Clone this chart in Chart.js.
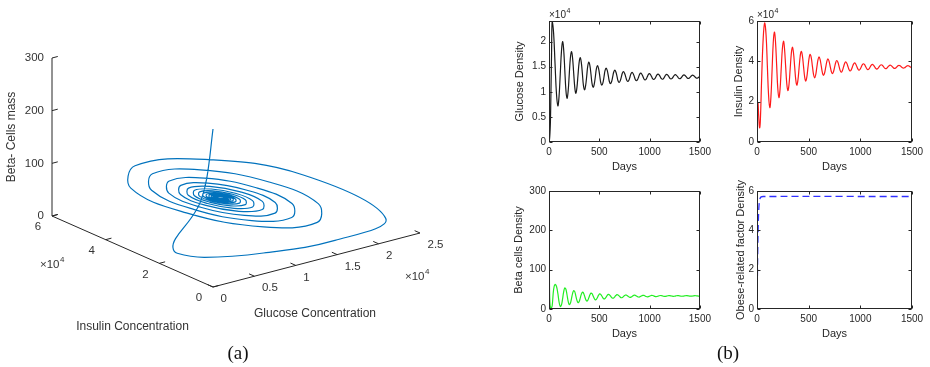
<!DOCTYPE html>
<html><head><meta charset="utf-8">
<script src="https://cdn.jsdelivr.net/npm/chart.js@4.4.1/dist/chart.umd.min.js"></script>
<style>
html,body{margin:0;padding:0;background:#fff;}
body{width:930px;height:367px;position:relative;overflow:hidden;}
canvas{position:absolute;}
.lab{position:absolute;font-family:"Liberation Serif","DejaVu Serif",serif;font-size:19px;color:#111;transform:translate(-50%,-50%);line-height:1;}
</style></head><body>
<canvas id="c3d" width="480" height="345" style="left:0px;top:0px"></canvas>
<canvas id="cG" width="215" height="175" style="left:500px;top:0px"></canvas>
<canvas id="cI" width="215" height="175" style="left:715px;top:0px"></canvas>
<canvas id="cB" width="215" height="162" style="left:500px;top:180px"></canvas>
<canvas id="cO" width="215" height="162" style="left:715px;top:180px"></canvas>
<div class="lab" style="left:238px;top:352px">(a)</div>
<div class="lab" style="left:728px;top:352px">(b)</div>
<script>
// ---------- data (time in days; glucose & insulin in units of 1e4) ----------
const days = [0,1,2,3,5,7,10,14,19,25,
  32,46,60,74,88,100,112,124, 135,146,157,168,179,190,201,212, 223,234,245,256,266,277,288,299,
  310,321,332,342,353,364,375,385, 396,407,418,428,439,450,461,471, 482,493,504,514,525,536,547,557,
  568,579,590,600,611,622,633,643, 654,665,676,686,697,708,719,729, 740,751,762,772,783,794,805,815,
  826,837,848,858,869,880,891,901, 912,923,934,944,955,966,977,987, 998,1009,1020,1030,1041,1052,1063,1073,
  1084,1095,1106,1116,1127,1138,1149,1159, 1170,1181,1192,1202,1213,1224,1235,1245,
  1256,1267,1278,1288,1299,1310,1321,1331, 1342,1353,1364,1374,1385,1396,1407,1417,
  1428,1439,1450,1460,1471,1482,1493,1500];
const glucose = [0,0.005,0.01,0.03,0.05,0.1,0.2,0.4,0.95,1.7,
  2.41,2.16,1.565,0.97,0.72,0.91,1.36,1.81, 2.0,1.835,1.435,1.035,0.87,1.006,1.335,1.664,
  1.8,1.678,1.385,1.092,0.97,1.074,1.325,1.576, 1.68,1.586,1.36,1.134,1.04,1.121,1.315,1.509,
  1.59,1.517,1.34,1.163,1.09,1.153,1.305,1.457, 1.52,1.463,1.325,1.187,1.13,1.179,1.30,1.421,
  1.47,1.425,1.315,1.205,1.16,1.2,1.295,1.39, 1.43,1.394,1.308,1.221,1.185,1.217,1.293,1.369,
  1.40,1.371,1.303,1.234,1.205,1.231,1.295,1.359, 1.385,1.361,1.303,1.244,1.22,1.242,1.295,1.348,
  1.37,1.35,1.303,1.255,1.235,1.253,1.298,1.342, 1.36,1.343,1.303,1.262,1.245,1.26,1.298,1.335,
  1.35,1.335,1.30,1.265,1.25,1.264,1.298,1.331, 1.345,1.332,1.30,1.268,1.255,1.267,1.298,1.328,
  1.34,1.328,1.30,1.272,1.26,1.271,1.298,1.324, 1.335,1.325,1.30,1.275,1.265,1.275,1.298,1.321,
  1.33,1.321,1.30,1.279,1.27,1.279,1.299,1.32];
const insulin = [0,0.25,0.5,0.9,1.55,1.8,1.95,1.55,1.05,0.7,
  1.0,3.3,5.14,5.9,5.285,3.8,2.315,1.7, 2.249,3.575,4.901,5.45,4.974,3.825,2.676,2.2,
  2.611,3.6,4.59,5.0,4.642,3.775,2.909,2.55, 2.865,3.625,4.385,4.7,4.424,3.76,3.096,2.82,
  3.066,3.66,4.254,4.5,4.283,3.76,3.237,3.02, 3.215,3.685,4.155,4.35,4.179,3.765,3.351,3.18,
  3.332,3.7,4.068,4.22,4.085,3.76,3.435,3.3, 3.421,3.71,3.999,4.12,4.013,3.755,3.497,3.39,
  3.485,3.715,3.945,4.04,3.955,3.75,3.545,3.46, 3.535,3.715,3.895,3.97,3.904,3.745,3.586,3.52,
  3.578,3.72,3.862,3.92,3.868,3.74,3.613,3.56, 3.607,3.72,3.834,3.88,3.838,3.735,3.632,3.59,
  3.628,3.72,3.812,3.85,3.816,3.733,3.649,3.615, 3.646,3.723,3.799,3.83,3.802,3.733,3.663,3.635,
  3.66,3.723,3.785,3.81,3.787,3.73,3.673,3.65, 3.672,3.725,3.778,3.8,3.779,3.73,3.681,3.66,
  3.679,3.725,3.771,3.79,3.773,3.73,3.687,3.67];
const beta = [300,200,150,110,55,30,12,5,2,3,
  9,50,62.5,57.8,39.5,18.1,6.4,10.3, 25.8,43.8,53.6,50.1,36.2,20.2,11.3,14.3,
  25.9,39.3,46.7,44.2,34.2,22.6,16.2,18.4, 27.2,37.2,42.8,40.9,33.5,24.9,20.2,21.85,
  28.45,36.15,40.35,38.95,33.25,26.75,23.15,24.4, 29.4,35.2,38.38,37.3,33.1,28.3,25.6,26.6,
  30.4,34.8,37.2,36.4,33.2,29.4,27.4,28.15, 31.05,34.45,36.35,35.7,33.2,30.3,28.65,29.25,
  31.55,34.15,35.65,35.15,33.15,30.9,29.65,30.1, 31.9,34,35.15,34.77,33.22,31.42,30.44,30.8,
  32.22,33.86,34.77,34.46,33.23,31.81,31.03,31.32, 32.45,33.75,34.47,34.23,33.26,32.14,31.52,31.75,
  32.66,33.7,34.28,34.08,33.31,32.41,31.92,32.1, 32.81,33.63,34.08,33.93,33.32,32.6,32.21,32.36,
  32.94,33.62,33.99,33.86,33.34,32.74,32.41,32.54, 33.02,33.58,33.89,33.78,33.36,32.88,32.61,32.71,
  33.1,33.54,33.79,33.7,33.35,32.93,32.71,32.8];
const obeseDays = [0,3,6,10,15,20,28,40,60,1500];
const obese = [0,1.2,2.5,3.8,4.8,5.3,5.6,5.7,5.72,5.72];

const dayTicks = [0,500,1000,1500];
const glucoseTicks = [0,0.5,1,1.5,2];
const insulinTicks = [0,2,4,6];
const betaTicks = [0,100,200,300];
const obeseTicks = [0,2,4,6];
const g3Ticks = [0,0.5,1,1.5,2,2.5];
const i3Ticks = [0,2,4,6];
const b3Ticks = [0,100,200,300];

// ---------- styling ----------
const INK = '#262626';
const SANS = '"Liberation Sans", Arial, Helvetica, sans-serif';
Chart.defaults.font.family = SANS;
Chart.defaults.color = INK;

// ---------- 3D view (oblique projection of the MATLAB plot3 box) ----------
const view = {origin:[213,287], gEnd:[420,233], iEnd:[52,216], bLen:158};
function proj(g,i,b){
  const gMax=g3Ticks[g3Ticks.length-1], iMax=i3Ticks[i3Ticks.length-1], bMax=b3Ticks[b3Ticks.length-1];
  const gx=(view.gEnd[0]-view.origin[0])/gMax, gy=(view.gEnd[1]-view.origin[1])/gMax;
  const ix=(view.iEnd[0]-view.origin[0])/iMax, iy=(view.iEnd[1]-view.origin[1])/iMax;
  const by=-view.bLen/bMax;
  return {x: view.origin[0]+gx*g+ix*i, y: view.origin[1]+gy*g+iy*i+by*b};
}

const axes3d = {
  id:'axes3d',
  beforeDatasetsDraw(chart){
    const {ctx, scales:{x:sx, y:sy}} = chart;
    const P=(g,i,b)=>{const p=proj(g,i,b);return [sx.getPixelForValue(p.x), sy.getPixelForValue(p.y)];};
    const gMax=g3Ticks[g3Ticks.length-1], iMax=i3Ticks[i3Ticks.length-1], bMax=b3Ticks[b3Ticks.length-1];
    ctx.save();
    ctx.strokeStyle=INK; ctx.lineWidth=1;
    const seg=(a,b)=>{ctx.beginPath();ctx.moveTo(a[0],a[1]);ctx.lineTo(b[0],b[1]);ctx.stroke();};
    seg(P(0,iMax,0),P(0,iMax,bMax));
    seg(P(0,iMax,0),P(0,0,0));
    seg(P(0,0,0),P(gMax,0,0));
    b3Ticks.forEach(v=>seg(P(0,iMax,v),P(0.07,iMax,v)));
    i3Ticks.forEach(v=>seg(P(0,v,0),P(0.07,v,0)));
    g3Ticks.forEach(v=>seg(P(v,0,0),P(v,0.2,0)));
    ctx.fillStyle='#333'; ctx.font='11.5px '+SANS; ctx.textBaseline='middle';
    ctx.textAlign='right';
    b3Ticks.forEach(v=>{const p=P(0,iMax,v);ctx.fillText(String(v),p[0]-8,p[1]);});
    ctx.textAlign='center';
    i3Ticks.forEach(v=>{const p=P(0,v,0);ctx.fillText(String(v),p[0]-14,p[1]+11);});
    ctx.textAlign='left';
    g3Ticks.forEach(v=>{const p=P(v,0,0);ctx.fillText(String(v),p[0]+7.5,p[1]+12);});
    const expo=(x,y)=>{ctx.font='11.5px '+SANS;ctx.textAlign='left';ctx.fillText('\u00d710',x,y);
      const w=ctx.measureText('\u00d710').width;ctx.font='8px '+SANS;ctx.fillText('4',x+w+0.5,y-5);};
    let q=P(0,iMax,0); expo(q[0]-12,q[1]+49);
    q=P(gMax,0,0); expo(q[0]-15,q[1]+44);
    ctx.font='12px '+SANS; ctx.textAlign='center';
    q=P(0,iMax/2,0); ctx.fillText('Insulin Concentration',q[0],q[1]+75.5);
    q=P(gMax/2,0,0); ctx.fillText('Glucose Concentration',q[0]-1.5,q[1]+54);
    q=P(0,iMax,bMax/2); ctx.translate(q[0]-40,q[1]); ctx.rotate(-Math.PI/2); ctx.fillText('Beta- Cells mass',0,0);
    ctx.restore();
  }
};

new Chart(document.getElementById('c3d'),{
  type:'scatter',
  data:{datasets:[{data:days.map((d,j)=>proj(glucose[j],insulin[j],beta[j])),showLine:true,borderColor:'#0072BD',
    borderWidth:1.2,pointRadius:0,tension:0.4,fill:false}]},
  options:{animation:false,responsive:false,events:[],layout:{padding:0},
    plugins:{legend:{display:false},tooltip:{enabled:false}},
    scales:{x:{type:'linear',display:false,min:0,max:480},y:{type:'linear',display:false,min:0,max:345,reverse:true}}},
  plugins:[axes3d]
});

// ---------- 2D MATLAB-style subplots ----------
const matlabBox = {
  id:'matlabBox',
  afterDatasetsDraw(chart,args,opts){
    const {ctx, chartArea:a, scales:{x,y}} = chart;
    ctx.save();
    ctx.strokeStyle=INK; ctx.lineWidth=1;
    const L=Math.round(a.left)+0.5, R=Math.round(a.right)-0.5, T=Math.round(a.top)+0.5, B=Math.round(a.bottom)-0.5;
    ctx.strokeRect(L,T,R-L,B-T);
    const tl=3;
    ctx.beginPath();
    x.ticks.forEach(t=>{const p=Math.round(x.getPixelForValue(t.value))+0.5;ctx.moveTo(p,B);ctx.lineTo(p,B-tl);ctx.moveTo(p,T);ctx.lineTo(p,T+tl);});
    y.ticks.forEach(t=>{const p=Math.round(y.getPixelForValue(t.value))+0.5;ctx.moveTo(L,p);ctx.lineTo(L+tl,p);ctx.moveTo(R,p);ctx.lineTo(R-tl,p);});
    ctx.stroke();
    ctx.fillStyle=INK; ctx.textBaseline='middle';
    if(opts.exp){
      ctx.textAlign='left'; ctx.font='10px '+SANS; ctx.fillText('\u00d710',a.left,a.top-5.5);
      const w=ctx.measureText('\u00d710').width; ctx.font='7px '+SANS; ctx.fillText('4',a.left+w+0.5,a.top-10);
    }
    ctx.font='11px '+SANS; ctx.textAlign='center';
    ctx.translate(a.left-opts.titleOff,(a.top+a.bottom)/2); ctx.rotate(-Math.PI/2); ctx.fillText(opts.title,0,0);
    ctx.restore();
  }
};

function subplot(id,cfg){
  new Chart(document.getElementById(id),{
    type:'line',
    data:{datasets:[{data:cfg.xs.map((d,j)=>({x:d,y:cfg.ys[j]})),borderColor:cfg.color,borderWidth:cfg.width||1.2,
      borderDash:cfg.dash||[],pointRadius:0,tension:cfg.tension,fill:false}]},
    options:{animation:false,responsive:false,events:[],
      layout:{padding:{top:cfg.padTop,right:cfg.padRight,left:0,bottom:0}},
      plugins:{legend:{display:false},tooltip:{enabled:false},matlabBox:{title:cfg.title,titleOff:cfg.titleOff,exp:cfg.exp}},
      scales:{
        x:{type:'linear',min:0,max:dayTicks[dayTicks.length-1],
          afterBuildTicks:s=>{s.ticks=dayTicks.map(v=>({value:v}));},
          afterFit:s=>{s.height=33;},
          grid:{display:false,drawTicks:false},border:{display:false},
          ticks:{font:{size:10},color:INK,padding:4,maxRotation:0,autoSkip:false,callback:v=>String(v)},
          title:{display:true,text:'Days',font:{size:11},color:INK,padding:{top:0,bottom:1}}},
        y:{type:'linear',min:0,max:cfg.ymax,
          afterBuildTicks:s=>{s.ticks=cfg.ticks.map(v=>({value:v}));},
          afterFit:s=>{s.width=cfg.yWidth;},
          grid:{display:false,drawTicks:false},border:{display:false},
          ticks:{font:{size:10},color:INK,padding:3,autoSkip:false,callback:v=>String(+(+v).toFixed(2))}}
      }},
    plugins:[matlabBox]
  });
}

subplot('cG',{xs:days,ys:glucose,ymax:2.41,ticks:glucoseTicks,color:'#1a1a1a',tension:0.4,
  title:'Glucose Density',titleOff:29,exp:true,yWidth:49,padTop:21,padRight:12});
subplot('cI',{xs:days,ys:insulin,ymax:6,ticks:insulinTicks,color:'#ff1a1a',tension:0.4,
  title:'Insulin Density',titleOff:18,exp:true,yWidth:42,padTop:21,padRight:18});
subplot('cB',{xs:days,ys:beta,ymax:300,ticks:betaTicks,color:'#22ee22',tension:0.4,
  title:'Beta cells Density',titleOff:30,exp:false,yWidth:49,padTop:11,padRight:12});
subplot('cO',{xs:obeseDays,ys:obese,ymax:6,ticks:obeseTicks,color:'#3030ff',tension:0.3,dash:[7,4],width:1.3,
  title:'Obese-related factor Density',titleOff:16,exp:false,yWidth:42,padTop:11,padRight:18});
</script>
</body></html>
